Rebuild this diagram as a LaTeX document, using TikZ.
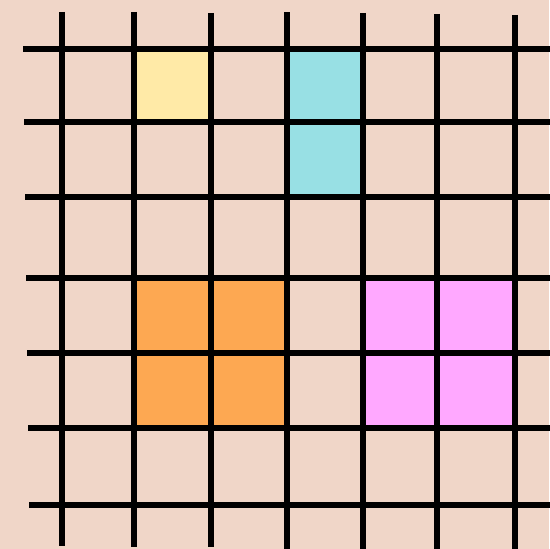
\documentclass[tikz,border=0pt]{standalone}
\usepackage{xcolor}
\usepackage{tikz}

\definecolor{bgsand}{RGB}{240,214,200}
\definecolor{cellyellow}{RGB}{255,234,167}
\definecolor{cellcyan}{RGB}{152,224,228}
\definecolor{cellorange}{RGB}{253,168,82}
\definecolor{cellpink}{RGB}{255,168,255}

\begin{document}
\begin{tikzpicture}[
    x=0.5pt, y=-0.5pt,
    gridline/.style={draw=black, line width=2.6pt},
    cell/.style={draw=none}
]
% canvas
\fill[bgsand] (0,0) rectangle (549,549);
\useasboundingbox (0,0) rectangle (549,549);

% coloured cells
\fill[cell, cellyellow] (134,49) rectangle (211,122);
\fill[cell, cellcyan] (287,49) rectangle (363,197);
\fill[cell, cellorange] (134,278) rectangle (287,428);
\fill[cell, cellpink] (363,278) rectangle (515,428);

% vertical lines
\foreach \gx/\gtop/\gbot in {62/12/546, 134/12/547, 211/13/547, 287/12.5/552, 363/13/552, 437/14/552, 515/15/552}
    \draw[gridline] (\gx,\gtop) -- (\gx,\gbot);

% horizontal lines
\foreach \gy/\gleft in {49/23, 122/24, 197/25, 278/26, 353/27, 428/28, 505/29}
    \draw[gridline] (\gleft,\gy) -- (552,\gy);
\end{tikzpicture}
\end{document}
